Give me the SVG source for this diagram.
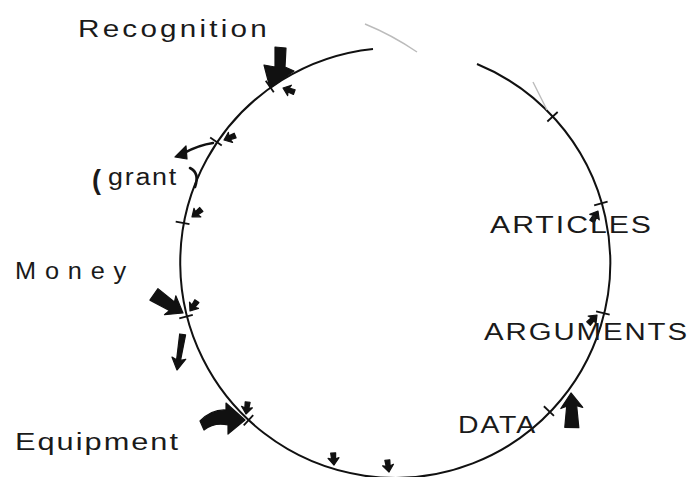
<svg xmlns="http://www.w3.org/2000/svg" width="691" height="477" viewBox="0 0 691 477">
<style>
.lbl{font-family:"Liberation Sans",Arial,sans-serif;fill:#1a1a1a;font-size:23px;letter-spacing:1.5px}
.circ{fill:none;stroke:#111;stroke-width:2}
.tick{stroke:#111;stroke-width:1.8}
.faint{fill:none;stroke:#bbb;stroke-width:1.4}
.ar{fill:#111;stroke:#111;stroke-width:1.2;stroke-linejoin:round}
.ln{fill:none;stroke:#111;stroke-width:2.6;stroke-linecap:round}
</style>
<defs>
<path id="sa" d="M0,0 L-7,-5.5 L-6,-2 L-12,-2.5 L-12,2.5 L-6,2 L-7,5.5 Z"/>
<path id="ba" d="M0,0 L-15,-11 L-13,-5 L-34,-8 L-35,6 L-13,5 L-15,11 Z"/>
<path id="ma" d="M0,0 L-12,-7 L-10,-2 L-36,-3 L-36,3 L-10,2 L-12,7 Z"/>
</defs>
<rect width="691" height="477" fill="#fff"/>
<g id="cycle">
<path class="circ" d="M 477 64 A 215 215 0 1 1 373 49"/>
<path class="faint" d="M 365 24 Q 392 35 417 52"/>
<path class="faint" d="M 533 82 L 547 110" stroke="#d0d0d0"/>
<g class="tick">
<line x1="-7" y1="0" x2="7" y2="0" transform="translate(394,262) rotate(-125.3) translate(215,0)"/>
<line x1="-7" y1="0" x2="7" y2="0" transform="translate(394,262) rotate(214.1) translate(215,0)"/>
<line x1="-7" y1="0" x2="7" y2="0" transform="translate(394,262) rotate(190.5) translate(215,0)"/>
<line x1="-7" y1="0" x2="7" y2="0" transform="translate(394,262) rotate(165.3) translate(215,0)"/>
<line x1="-7" y1="0" x2="7" y2="0" transform="translate(394,262) rotate(132.6) translate(215,0)"/>
<line x1="-7" y1="0" x2="7" y2="0" transform="translate(394,262) rotate(-42.5) translate(215,0)"/>
<line x1="-7" y1="0" x2="7" y2="0" transform="translate(394,262) rotate(-15.8) translate(215,0)"/>
<line x1="-7" y1="0" x2="7" y2="0" transform="translate(394,262) rotate(13.7) translate(215,0)"/>
<line x1="-7" y1="0" x2="7" y2="0" transform="translate(394,262) rotate(43.9) translate(215,0)"/>
</g>
</g>
<g id="connectors">
<path class="ar" d="M275 47 L286 48 L285 67 L294 71 L270 88 L264 65 L275 67 Z"/>
<use href="#sa" class="ar" transform="translate(283,88) rotate(200)"/>
<use href="#sa" class="ar" transform="translate(224,140) rotate(158)"/>
<path class="ln" d="M213 143 Q 199 145 184 153"/>
<path class="ar" d="M175 157 L186 146 L187 159 Z"/>
<path class="ln" d="M190 168 Q 200 173 195 187"/>
<use href="#sa" class="ar" transform="translate(192,217) rotate(141)"/>
<use href="#ba" class="ar" transform="translate(183,313) rotate(31)"/>
<use href="#sa" class="ar" transform="translate(190,311) rotate(125)"/>
<use href="#ma" class="ar" transform="translate(177,370) rotate(99)"/>
<path class="ar" d="M200 421 Q 212 409 226 410 L 226 403 L 245 420 L 228 434 L 228 425 Q 214 422 204 430 Z"/>
<use href="#sa" class="ar" transform="translate(246,414) rotate(98)"/>
<use href="#sa" class="ar" transform="translate(334,465) rotate(86)"/>
<use href="#sa" class="ar" transform="translate(389,472) rotate(82)"/>
<use href="#sa" class="ar" transform="translate(598,211) rotate(-60)"/>
<use href="#sa" class="ar" transform="translate(597,315) rotate(-45)"/>
<use href="#ba" class="ar" transform="translate(571,393) rotate(-93)"/>
</g>
<g id="label-recognition"><text class="lbl" x="78" y="37" font-size="22" style="letter-spacing:2.5px" textLength="192" lengthAdjust="spacingAndGlyphs">Recognition</text></g>
<g id="label-grant"><text class="lbl" x="92" y="189"><tspan font-size="27" font-weight="bold">(</tspan><tspan x="108" y="185" textLength="70" lengthAdjust="spacingAndGlyphs">grant</tspan></text></g>
<g id="label-money"><text class="lbl" x="15" y="279" font-size="24" style="letter-spacing:8px" textLength="120" lengthAdjust="spacingAndGlyphs">Money</text></g>
<g id="label-equipment"><text class="lbl" x="15" y="450" textLength="165" lengthAdjust="spacingAndGlyphs">Equipment</text></g>
<g id="label-articles"><text class="lbl" x="490" y="233" textLength="163" lengthAdjust="spacingAndGlyphs">ARTICLES</text></g>
<g id="label-arguments"><text class="lbl" x="484" y="340" textLength="205" lengthAdjust="spacingAndGlyphs">ARGUMENTS</text></g>
<g id="label-data"><text class="lbl" x="458" y="433" textLength="79" lengthAdjust="spacingAndGlyphs">DATA</text></g>
</svg>
